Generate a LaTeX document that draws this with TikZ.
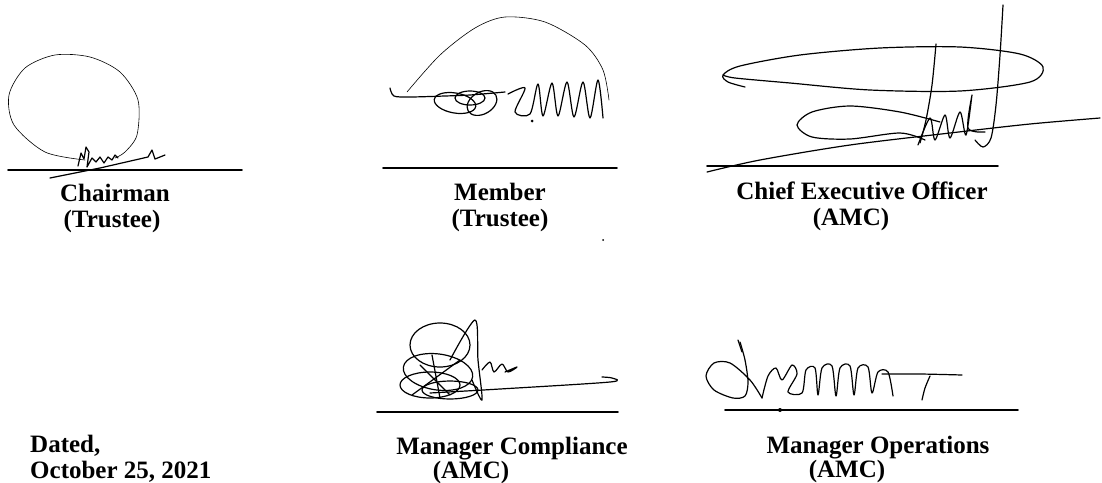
\documentclass[tikz,border=0pt]{standalone}
\usepackage{fontspec}
\setmainfont{Liberation Serif}
\usepackage{tikz}
\usetikzlibrary{positioning, calc}

\begin{document}
\begin{tikzpicture}[x=1pt,y=-1pt,line join=round,line cap=round,
  sig line/.style={line width=1.7pt},
  pen/.style={line width=1.2pt},
  thin pen/.style={line width=0.6pt},
  title/.style={font=\bfseries\fontsize{25}{25}\selectfont,anchor=base,inner sep=0pt}]
  \useasboundingbox[fill=white] (0,0) rectangle (1102,482);

  % signature lines
  \coordinate (c1) at (8,170);   \coordinate (c2) at (242,170);
  \coordinate (m1) at (383,168); \coordinate (m2) at (617,168);
  \coordinate (e1) at (707,166); \coordinate (e2) at (998,166);
  \coordinate (k1) at (377,412); \coordinate (k2) at (618,412);
  \coordinate (o1) at (725,410); \coordinate (o2) at (1018,410);
  \draw[sig line] (c1) -- (c2);
  \draw[sig line] (m1) -- (m2);
  \draw[sig line] (e1) -- (e2);
  \draw[sig line] (k1) -- (k2);
  \draw[sig line] (o1) -- (o2);

  % titles
  \node[title] (chair) at (115,201) {Chairman};
  \node[title] (chairsub) at (112,227) {(Trustee)};
  \node[title] (member) at (500,200) {Member};
  \node[title] (membersub) at (500,226) {(Trustee)};
  \node[title] (ceo) at (862,199) {Chief Executive Officer};
  \node[title] (ceosub) at (851,225) {(AMC)};
  \node[title,anchor=base west] (datedlbl) at (30,452) {Dated,};
  \node[title,anchor=base west] (datedval) at (30,478) {October 25, 2021};
  \node[title] (mgrcomp) at (512,454) {Manager Compliance};
  \node[title] (mgrcompsub) at (471,478) {(AMC)};
  \node[title] (mgrops) at (878,453) {Manager Operations};
  \node[title] (mgropssub) at (847,477) {(AMC)};

  % chairman
  \draw[thin pen] plot[smooth] coordinates {(85,160) (45,152) (14,125) (9,95) (25,68) (55,55) (90,57) (120,72) (138,100) (137,135) (125,152) (115,158)};
  \draw[pen] (78,166) -- (81,153) -- (84,159) -- (86,147) -- (89,152) -- (87,167) -- (92,158) -- (96,162) -- (100,157) -- (104,163) -- (108,157) -- (112,160) -- (115,155) -- (118,158);
  \draw[pen] (50,178) -- (100,168) -- (148,157) -- (152,150) -- (155,159) -- (165,155);

  % member
  \draw[pen] plot[smooth] coordinates {(390,88) (394,96) (410,97) (445,96) (470,95) (505,92)};
  \draw[thin pen] plot[smooth] coordinates {(407,92) (440,55) (475,28) (505,17) (545,22) (585,45) (603,70) (609,100)};
  \draw[pen] (455,103) ellipse[x radius=21,y radius=10,rotate=-10];
  \draw[pen] (482,103) ellipse[x radius=16,y radius=11,rotate=30];
  \draw[pen] (470,98) ellipse[x radius=15,y radius=7];
  \draw[pen] plot[smooth] coordinates {(508,94) (525,88) (515,112) (530,114) (538,84) (543,116) (552,83) (558,116) (567,82) (574,117) (583,82) (590,118) (598,80) (603,118)};
  \fill (532,121) circle[radius=1.5];

  % chief executive officer
  \draw[pen] plot[smooth] coordinates {(745,87) (728,82) (723,75) (740,66) (800,55) (880,48) (960,47) (1020,54) (1043,67) (1030,82) (960,91) (870,90) (790,83) (735,78) (723,75)};
  \draw[pen] plot[smooth] coordinates {(940,122) (900,112) (850,106) (812,112) (797,125) (812,137) (850,139) (900,133) (925,140)};
  \draw[pen] plot[smooth] coordinates {(936,44) (932,85) (926,120) (920,143)};
  \draw[pen] plot[smooth] coordinates {(1003,5) (1000,55) (996,105) (991,138) (983,147) (975,140)};
  \draw[pen] plot[smooth] coordinates {(918,145) (930,118) (935,140) (945,115) (950,138) (960,112) (966,135) (972,95) (968,128) (985,132)};
  \draw[pen] plot[smooth] coordinates {(707,172) (760,160) (850,145) (950,133) (1030,124) (1100,118)};

  % manager compliance
  \draw[pen] (440,345) ellipse[x radius=30,y radius=22];
  \draw[pen] (438,372) ellipse[x radius=35,y radius=18,rotate=-8];
  \draw[pen] (430,385) ellipse[x radius=30,y radius=13];
  \draw[pen] (450,390) ellipse[x radius=28,y radius=9];
  \draw[pen] (420,365) -- (450,395) (412,395) -- (460,360) (432,355) -- (440,398);
  \draw[pen] plot[smooth] coordinates {(450,360) (475,320) (478,360) (482,400) (472,380)};
  \draw[pen] plot[smooth] coordinates {(482,370) (490,362) (494,372) (502,364) (508,372) (517,367) (505,372)};
  \draw[pen] plot[smooth] coordinates {(430,393) (500,389) (610,382) (612,378) (602,377)};

  % manager operations
  \draw[pen] plot[smooth] coordinates {(740,342) (745,360) (748,382) (745,396) (733,398) (714,390) (706,376) (714,363) (730,363) (750,380) (762,398)};
  \draw[pen] (738,340) -- (742,352);
  \draw[pen] plot[smooth] coordinates {(762,398) (768,376) (776,368) (782,380) (792,365) (797,374) (788,392) (802,393) (806,370) (815,368) (818,395) (822,368) (832,366) (836,396) (840,368) (850,366) (854,395) (858,368) (868,367) (872,393) (878,372) (888,372) (893,396)};
  \draw[pen] plot[smooth] coordinates {(882,374) (920,374) (962,375)};
  \draw[pen] plot[smooth] coordinates {(930,376) (925,388) (922,400)};
  \fill (780,410) circle[radius=2];

  % specks
  \fill (603,240) circle[radius=1];
\end{tikzpicture}
\end{document}
